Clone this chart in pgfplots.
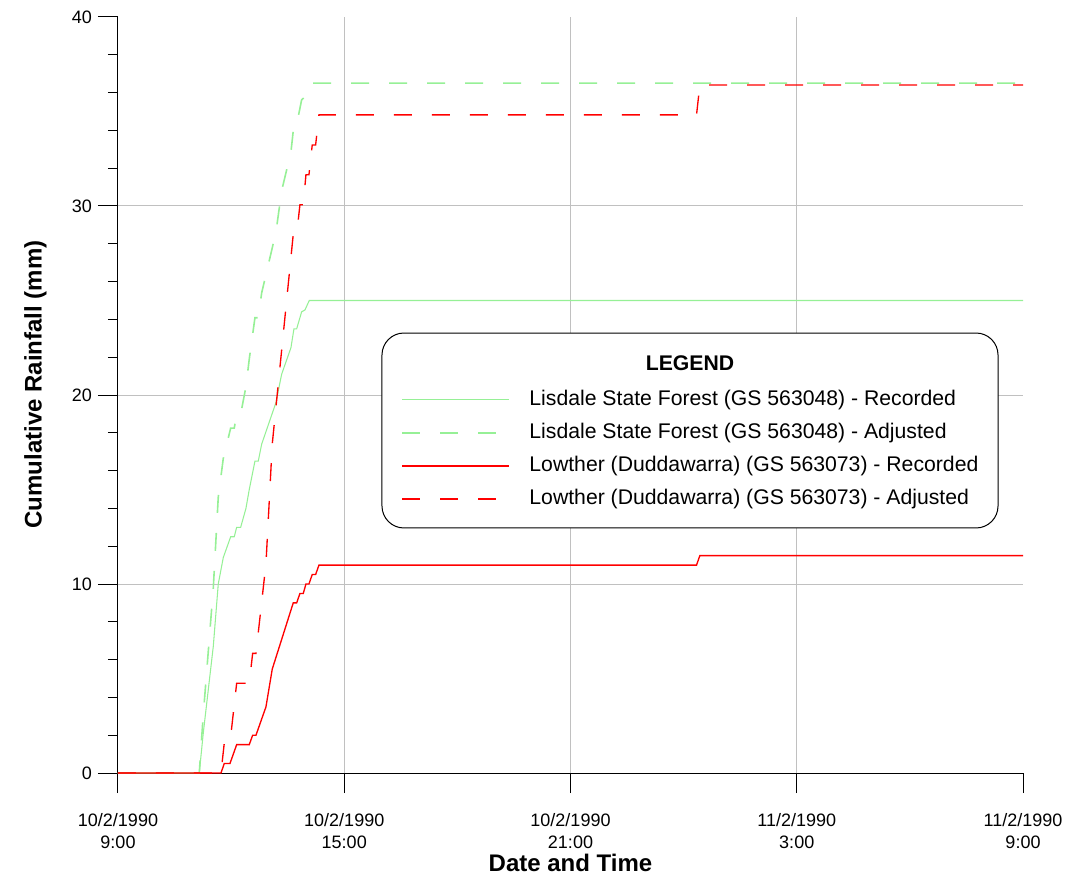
\documentclass[border=0pt]{standalone}
\usepackage{fontspec}
\setmainfont{Liberation Sans}
\usepackage{pgfplots}
\pgfplotsset{compat=1.18}
\usepackage{pgfplotstable}

\definecolor{lgreen}{RGB}{150,240,150}
\definecolor{gridgray}{RGB}{192,192,192}

% x = hours since 10/2/1990 9:00
\pgfplotstableread{
x y
0 0
2.155 0
2.261 2.1
2.527 6.7
2.659 10.0
2.792 11.4
2.988 12.5
3.083 12.5
3.147 13.0
3.253 13.0
3.393 14.0
3.481 15.0
3.632 16.5
3.720 16.5
3.810 17.4
4.189 19.6
4.340 21.1
4.586 22.5
4.666 23.5
4.738 23.5
4.870 24.4
4.958 24.5
5.072 25.0
24 25.0
}\lisrec

\pgfplotstableread{
x y
0 0
2.155 0
2.261 3.07
2.527 9.78
2.659 14.60
2.792 16.64
2.988 18.25
3.083 18.25
3.147 18.98
3.253 18.98
3.393 20.44
3.481 21.90
3.632 24.09
3.720 24.09
3.810 25.40
4.189 28.62
4.340 30.81
4.586 32.85
4.666 34.31
4.738 34.31
4.870 35.62
4.958 35.77
5.072 36.50
24 36.50
}\lisadj

\pgfplotstableread{
x y
0 0
2.731 0
2.818 0.5
2.969 0.5
3.147 1.5
3.481 1.5
3.571 2.0
3.659 2.0
3.924 3.5
4.091 5.5
4.647 9.0
4.738 9.0
4.825 9.5
4.913 9.5
4.984 10.0
5.064 10.0
5.151 10.5
5.241 10.5
5.329 11.0
15.342 11.0
15.430 11.5
24 11.5
}\lowrec

\pgfplotstableread{
x y
0 0
2.731 0
2.818 1.58
2.969 1.58
3.147 4.75
3.481 4.75
3.571 6.33
3.659 6.33
3.924 11.08
4.091 17.41
4.647 28.49
4.738 28.49
4.825 30.07
4.913 30.07
4.984 31.65
5.064 31.65
5.151 33.23
5.241 33.23
5.329 34.82
15.342 34.82
15.430 36.40
24 36.40
}\lowadj

\begin{document}
\begin{tikzpicture}
\useasboundingbox (-88.5pt,-79.5pt) rectangle (722.25pt,579.75pt);
\begin{axis}[
  scale only axis, width=678.75pt, height=567pt,
  at={(0pt,0pt)}, anchor=south west,
  xmin=0, xmax=24, ymin=0, ymax=40,
  clip=false,
  axis x line*=bottom, axis y line*=left,
  axis line style={black, line width=0.75pt},
  xtick={0,6,12,18,24},
  xticklabels={{10/2/1990\\9:00},{10/2/1990\\15:00},{10/2/1990\\21:00},{11/2/1990\\3:00},{11/2/1990\\9:00}},
  ytick={0,10,20,30,40},
  minor y tick num=4,
  tick align=outside,
  major tick length=15pt, minor tick length=7.5pt,
  every tick/.style={black, line width=0.75pt},
  extra x ticks={6,12,18}, extra x tick labels={},
  extra x tick style={grid=major, major tick length=0pt},
  extra y ticks={10,20,30}, extra y tick labels={},
  extra y tick style={grid=major, major tick length=0pt},
  major grid style={gridgray, line width=0.75pt},
  /pgf/number format/assume math mode=true,
  tick label style={font=\fontsize{13.5}{16}\selectfont},
  xticklabel style={align=center, yshift=-12pt},
  yticklabel style={xshift=-1pt},
  every axis x label/.style={at={(axis description cs:0.5,0)}, yshift=-67.5pt, anchor=center},
  every axis y label/.style={at={(axis description cs:0,0.514)}, xshift=-62pt, rotate=90, anchor=center},
  label style={font=\fontsize{18}{21}\selectfont\bfseries},
  xlabel={Date and Time},
  ylabel={Cumulative Rainfall (mm)},
  legend image code/.code={\draw[#1] (0pt,0pt) -- (80.25pt,0pt);},
  legend style={at={(rel axis cs:0.3127,0.428)}, anchor=west, draw=none, fill=none,
    inner sep=0pt, row sep=9.75pt,
    font=\fontsize{15.9}{18}\selectfont,
    nodes={inner sep=0pt, text height=11.5pt, text depth=3.5pt}},
  legend cell align=left,
]
\draw[fill=white, line width=0.75pt, rounded corners=16.5pt]
  (rel axis cs:0.2917,0.3241) rectangle (rel axis cs:0.9724,0.582);
\node[font=\fontsize{15.9}{18}\selectfont\bfseries] at (rel axis cs:0.632,0.5423) {LEGEND};
\addplot[lgreen, line width=0.8pt] table {\lisrec};
\addlegendentry{\hspace{14.7pt}Lisdale State Forest (GS 563048) - Recorded}
\addplot[lgreen, line width=1.2pt, dash pattern=on 13.5pt off 15pt] table {\lisadj};
\addlegendentry{\hspace{14.7pt}Lisdale State Forest (GS 563048) - Adjusted}
\addplot[red, line width=1pt] table {\lowrec};
\addlegendentry{\hspace{14.7pt}Lowther (Duddawarra) (GS 563073) - Recorded}
\addplot[red, line width=1pt, dash pattern=on 13.5pt off 15pt] table {\lowadj};
\addlegendentry{\hspace{14.7pt}Lowther (Duddawarra) (GS 563073) - Adjusted}
\end{axis}
\end{tikzpicture}
\end{document}
